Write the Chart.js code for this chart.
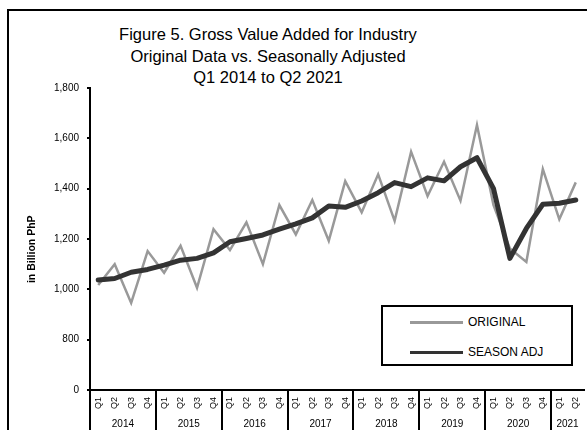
<!DOCTYPE html>
<html>
<head>
<meta charset="utf-8">
<script src="https://cdn.jsdelivr.net/npm/chart.js@4"></script>
<style>
  body { margin: 0; width: 587px; height: 430px; overflow: hidden; background: #fff; position: relative; font-family: "Liberation Sans", Arial, sans-serif; }
  #frame { position: absolute; left: 7px; top: 9px; width: 620px; height: 460px; border: 2px solid #000; }
  #title { position: absolute; left: 68px; top: 24px; width: 400px; text-align: center; font-size: 16.5px; line-height: 21.5px; color: #000; }
  #chart { position: absolute; left: 0; top: 0; }
  #legend { position: absolute; left: 381px; top: 305px; width: 188px; height: 57px; border: 2px solid #000; background: #fff; }
  .item { position: absolute; left: 27px; height: 14px; font-size: 12px; line-height: 14px; }
  .item span.ln { position: absolute; left: 0; top: 6px; width: 53px; height: 3px; }
  .item span.tx { position: absolute; left: 58px; top: 0; white-space: nowrap; }
</style>
</head>
<body>
<div id="frame"></div>
<div id="title">Figure 5. Gross Value Added for Industry<br>Original Data vs. Seasonally Adjusted<br>Q1 2014 to Q2 2021</div>
<canvas id="chart" width="587" height="430"></canvas>
<div id="legend">
  <div class="item" style="top:8px"><span class="ln" style="background:#999999"></span><span class="tx">ORIGINAL</span></div>
  <div class="item" style="top:38px"><span class="ln" style="background:#333333"></span><span class="tx">SEASON ADJ</span></div>
</div>
<script>
const quarters = [
  'Q1','Q2','Q3','Q4', 'Q1','Q2','Q3','Q4', 'Q1','Q2','Q3','Q4', 'Q1','Q2','Q3','Q4',
  'Q1','Q2','Q3','Q4', 'Q1','Q2','Q3','Q4', 'Q1','Q2','Q3','Q4', 'Q1','Q2'
];
const years = ['2014','2015','2016','2017','2018','2019','2020','2021'];
const quartersPerYear = [4, 4, 4, 4, 4, 4, 4, 2];

const original = [
  1017, 1100, 946, 1152, 1066, 1173, 1006, 1239, 1156, 1266,
  1100, 1335, 1218, 1355, 1193, 1430, 1306, 1457, 1272, 1547,
  1371, 1507, 1352, 1653, 1335, 1162, 1109, 1478, 1278, 1425
];
const seasonAdj = [
  1037, 1043, 1068, 1079, 1096, 1116, 1123, 1145, 1189, 1202,
  1216, 1239, 1260, 1284, 1331, 1326, 1351, 1384, 1424, 1408,
  1443, 1431, 1487, 1523, 1401, 1123, 1242, 1338, 1342, 1355
];
const yTicks = [600, 800, 1000, 1200, 1400, 1600, 1800];

// middle of each year group, in category units
const yearMid = [];
let start = 0;
quartersPerYear.forEach(n => { yearMid.push(start + (n - 1) / 2); start += n; });

const ctx = document.getElementById('chart').getContext('2d');
const chart = new Chart(ctx, {
  type: 'line',
  data: {
    labels: quarters,
    datasets: [
      {
        label: 'SEASON ADJ',
        data: seasonAdj,
        borderColor: '#333333',
        borderWidth: 5,
        pointRadius: 0,
        tension: 0,
        borderJoinStyle: 'round',
        borderCapStyle: 'round',
        order: 1
      },
      {
        label: 'ORIGINAL',
        data: original,
        borderColor: '#999999',
        borderWidth: 2.5,
        pointRadius: 0,
        tension: 0,
        order: 2
      }
    ]
  },
  options: {
    responsive: false,
    animation: false,
    devicePixelRatio: 1,
    layout: { padding: { left: 20, right: 3, top: 88, bottom: 0 } },
    plugins: { legend: { display: false }, tooltip: { enabled: false } },
    scales: {
      x: {
        type: 'category',
        position: 'bottom',
        weight: 0,
        offset: true,
        afterFit: s => { s.height = 22; },
        border: { display: true, color: '#000', width: 2 },
        grid: {
          offset: true,
          drawOnChartArea: false,
          drawTicks: true,
          tickLength: 40,
          lineWidth: 2,
          color: c => (c.index % 4 === 0 && c.index < quarters.length) ? '#000' : 'rgba(0,0,0,0)'
        },
        ticks: {
          autoSkip: false,
          minRotation: 90,
          maxRotation: 90,
          padding: -33,
          color: '#000',
          font: { family: '"Liberation Sans", Arial, sans-serif', size: 9 }
        }
      },
      x2: {
        type: 'linear',
        position: 'bottom',
        weight: 1,
        min: -0.5,
        max: quarters.length - 0.5,
        afterFit: s => { s.height = 18; },
        afterBuildTicks: s => { s.ticks = yearMid.map(v => ({ value: v })); },
        border: { display: false },
        grid: { display: false, drawTicks: false },
        ticks: {
          autoSkip: false,
          maxRotation: 0,
          padding: 6,
          color: '#000',
          font: { family: '"Liberation Sans", Arial, sans-serif', size: 10 },
          callback: (v, i) => years[i]
        }
      },
      y: {
        min: 600,
        max: 1800,
        afterFit: s => { s.width = 70; },
        afterBuildTicks: s => { s.ticks = yTicks.map(v => ({ value: v })); },
        border: { display: true, color: '#000', width: 2 },
        grid: { drawOnChartArea: false, drawTicks: true, tickLength: 3, color: '#000', lineWidth: 2 },
        ticks: {
          padding: 8,
          color: '#000',
          font: { family: '"Liberation Sans", Arial, sans-serif', size: 10 },
          callback: v => v === 600 ? '0' : v.toLocaleString('en-US')
        },
        title: {
          display: true,
          text: 'in Billion PhP       ',
          color: '#000',
          padding: { top: 6, bottom: 0 },
          font: { family: '"Liberation Sans", Arial, sans-serif', size: 10.5, weight: 'bold' }
        }
      }
    }
  }
});
</script>
</body>
</html>
